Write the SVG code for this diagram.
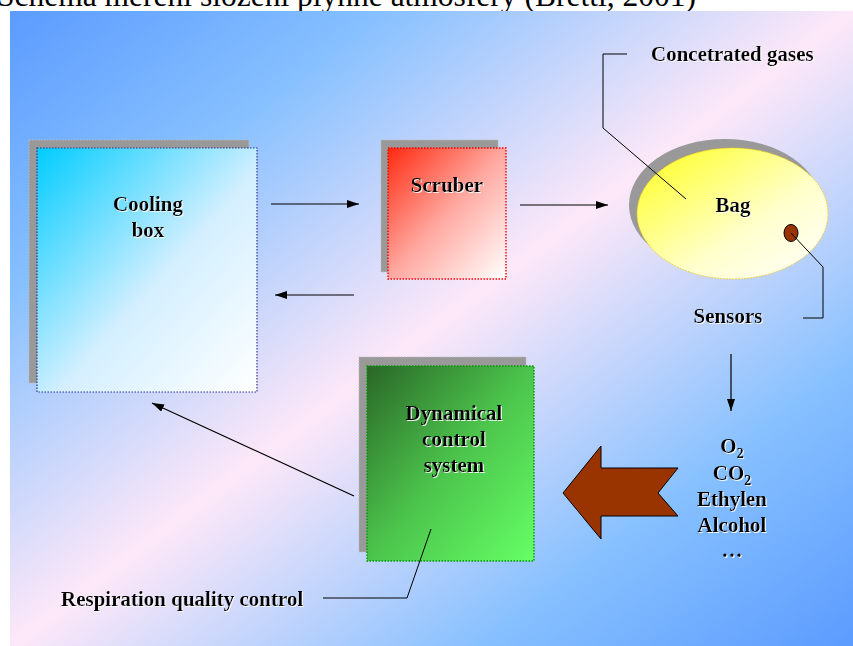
<svg xmlns="http://www.w3.org/2000/svg" width="853" height="646" viewBox="0 0 853 646">
<defs>
<linearGradient id="bg" x1="0" y1="0" x2="1" y2="1">
<stop offset="0" stop-color="#5c9bff"/>
<stop offset="0.22" stop-color="#86c0ff"/>
<stop offset="0.5" stop-color="#fde8f8"/>
<stop offset="0.78" stop-color="#86c0ff"/>
<stop offset="1" stop-color="#5c9bff"/>
</linearGradient>
<linearGradient id="gCool" x1="0" y1="0" x2="1" y2="1">
<stop offset="0" stop-color="#00ccff"/>
<stop offset="0.55" stop-color="#d4efff"/>
<stop offset="1" stop-color="#ffffff"/>
</linearGradient>
<linearGradient id="gScrub" x1="0" y1="0" x2="1" y2="1">
<stop offset="0" stop-color="#ff2a10"/>
<stop offset="0.5" stop-color="#ffa8a0"/>
<stop offset="1" stop-color="#ffffff"/>
</linearGradient>
<linearGradient id="gBag" x1="0" y1="0" x2="1" y2="1">
<stop offset="0" stop-color="#ffff1a"/>
<stop offset="0.6" stop-color="#ffffcc"/>
<stop offset="1" stop-color="#ffffff"/>
</linearGradient>
<linearGradient id="gDyn" x1="0" y1="0" x2="1" y2="1">
<stop offset="0" stop-color="#2a6628"/>
<stop offset="0.5" stop-color="#4cc44c"/>
<stop offset="1" stop-color="#66ff66"/>
</linearGradient>
<filter id="ts" x="-5%" y="-20%" width="110%" height="140%">
<feDropShadow dx="1" dy="1" stdDeviation="0" flood-color="#ffffff" flood-opacity="0.9"/>
</filter>
<marker id="ah" markerWidth="12" markerHeight="8" refX="12" refY="4" orient="auto" markerUnits="userSpaceOnUse">
<path d="M0,0 L12,4 L0,8 z" fill="#000"/>
</marker>
<style>
.lbl{font-family:"Liberation Serif","Times New Roman",serif;font-weight:bold;font-size:21px;fill:#000;filter:url(#ts)}
.c{text-anchor:middle}
.sub{font-size:14px}
.shadow{fill:#999999;stroke:#bbbbbb;stroke-width:1;stroke-dasharray:1.5 1.5}
.conn{stroke:#000;stroke-width:1.2;fill:none}
.lead{stroke:#000;stroke-width:1;fill:none}
</style>
</defs>

<text x="-3" y="6" font-family="Liberation Serif,'Times New Roman',serif" font-size="31.5" fill="#000">Schéma měření složení plynné atmosféry (Brettl, 2001)</text>

<rect x="10" y="11" width="843" height="635" fill="url(#bg)"/>

<g id="cooling-box">
<rect class="shadow" x="29" y="140" width="220" height="243"/>
<rect x="37" y="148" width="220" height="244" fill="url(#gCool)" stroke="#333399" stroke-width="1.2" stroke-dasharray="1.5 1.5"/>
<text class="lbl c" x="148" y="211">Cooling</text>
<text class="lbl c" x="148" y="237">box</text>
</g>

<g id="scruber">
<rect class="shadow" x="381" y="140" width="117" height="132"/>
<rect x="388" y="148" width="118" height="131" fill="url(#gScrub)" stroke="#ff0000" stroke-width="1.4" stroke-dasharray="1.5 1.5"/>
<text class="lbl c" x="447" y="192">Scruber</text>
</g>

<g id="bag">
<ellipse cx="725" cy="205" rx="96" ry="66" fill="#999999"/>
<ellipse cx="732.5" cy="213.5" rx="95.5" ry="65.5" fill="url(#gBag)" stroke="#ffcc00" stroke-width="1" stroke-dasharray="1.5 1.5"/>
<text class="lbl c" x="733" y="212">Bag</text>
<ellipse cx="791" cy="233" rx="7" ry="8.5" fill="#993300" stroke="#000" stroke-width="1"/>
</g>

<g id="dynamical-control-system">
<rect class="shadow" x="359" y="357" width="167" height="195"/>
<rect x="367" y="366" width="167" height="195" fill="url(#gDyn)" stroke="#009900" stroke-width="1.4" stroke-dasharray="1.5 1.5"/>
<text class="lbl c" x="454" y="420">Dynamical</text>
<text class="lbl c" x="454" y="446">control</text>
<text class="lbl c" x="454" y="472">system</text>
</g>

<g id="big-arrow">
<polygon points="563,493 601,446 601,468 678,468 658,493 678,516 601,516 601,539" fill="#993300" stroke="#000" stroke-width="1"/>
</g>

<g id="labels">
<text class="lbl" x="651" y="61">Concetrated gases</text>
<text class="lbl c" x="728" y="323">Sensors</text>
<text class="lbl c" x="732" y="453">O<tspan class="sub" dy="5">2</tspan></text>
<text class="lbl c" x="732" y="480">CO<tspan class="sub" dy="5">2</tspan></text>
<text class="lbl c" x="732" y="506">Ethylen</text>
<text class="lbl c" x="732" y="532">Alcohol</text>
<text class="lbl c" x="732" y="557">…</text>
<text class="lbl" x="61" y="606">Respiration quality control</text>
</g>

<g id="connectors">
<line class="conn" x1="271" y1="204" x2="359" y2="204" marker-end="url(#ah)"/>
<line class="conn" x1="354" y1="295" x2="275" y2="295" marker-end="url(#ah)"/>
<line class="conn" x1="520" y1="205" x2="608" y2="205" marker-end="url(#ah)"/>
<line class="conn" x1="731" y1="354" x2="731" y2="411" marker-end="url(#ah)"/>
<line class="conn" x1="354" y1="496" x2="152" y2="403" marker-end="url(#ah)"/>
<polyline class="lead" points="627,54 603,54 603,128 686,199"/>
<polyline class="lead" points="791,233 823,267 823,318 803,318"/>
<polyline class="lead" points="323,598 407,598 431,529"/>
</g>
</svg>
